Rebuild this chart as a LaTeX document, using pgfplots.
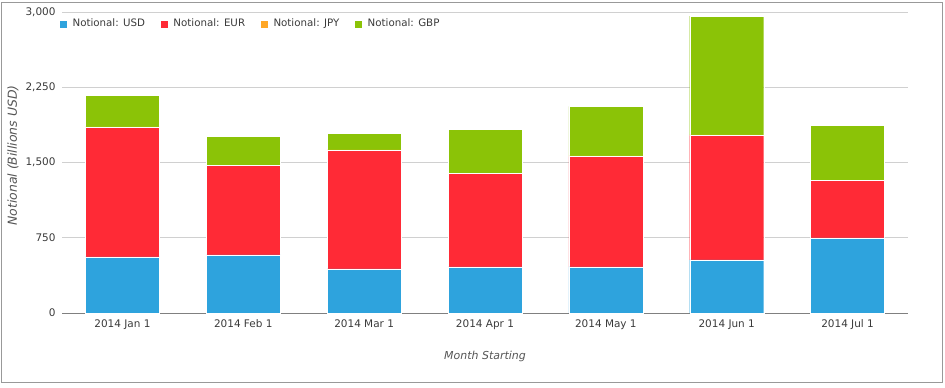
\documentclass[border=0pt]{standalone}
\usepackage{pgfplots}
\pgfplotsset{compat=1.18}
\usepackage{fontspec}
\setmainfont{DejaVu Sans}
\definecolor{cusd}{HTML}{2EA3DD}
\definecolor{ceur}{HTML}{FF2A36}
\definecolor{cjpy}{HTML}{FFA726}
\definecolor{cgbp}{HTML}{8BC307}
\definecolor{ctxt}{HTML}{3A3A3A}
\definecolor{clab}{HTML}{555555}
\definecolor{cgrid}{HTML}{D0D0D0}
\begin{document}
\begin{tikzpicture}[x=1bp,y=1bp]
\useasboundingbox (0,0) rectangle (945,387);
\draw[color=gray!80,line width=1bp] (1,5) rectangle (942,384);
\begin{axis}[
  at={(62bp,74bp)}, anchor=south west,
  scale only axis, width=846bp, height=301bp,
  ybar stacked, bar width=74bp,
  xmin=-0.5, xmax=6.5, ymin=0, ymax=3000,
  xtick=data,
  xticklabels={2014 Jan 1,2014 Feb 1,2014 Mar 1,2014 Apr 1,2014 May 1,2014 Jun 1,2014 Jul 1},
  ytick={0,750,1500,2250,3000},
  /pgf/number format/.cd, 1000 sep={,}, assume math mode=true, /pgfplots/.cd,
  ymajorgrids, grid style={cgrid, line width=0.8bp},
  axis x line*=bottom, axis y line*=left,
  y axis line style={draw=none},
  x axis line style={color=gray, line width=1bp, -},
  major tick length=0pt,
  tick label style={font=\fontsize{10.5}{12}\selectfont, text=ctxt},
  xticklabel style={yshift=-3bp, text height=7.5bp, text depth=2bp},
  yticklabel style={xshift=-3bp},
  xlabel={\itshape Month Starting},
  ylabel={\itshape Notional (Billions USD)},
  label style={text=clab},
  xlabel style={font=\fontsize{11}{12}\selectfont, at={(axis description cs:0.5,0)}, anchor=center, yshift=-43bp},
  ylabel style={font=\fontsize{12.5}{14}\selectfont, at={(axis description cs:0,0.5)}, anchor=center, yshift=49bp, xshift=7bp},
  legend columns=4,
  legend style={at={(0,1)}, anchor=north west, draw=none, fill=none,
    font=\fontsize{10.3}{12}\selectfont, text=ctxt, yshift=-3bp, xshift=-6bp,
    /tikz/every odd column/.append style={column sep=3bp},
    /tikz/every even column/.append style={column sep=13bp}},
  legend image code/.code={\fill[#1] (0bp,-4bp) rectangle (8bp,4bp);},
  every axis plot/.append style={draw=white, line width=0.4bp},
]
\addplot[fill=cusd] coordinates {(0,560) (1,580) (2,440) (3,460) (4,460) (5,530) (6,750)};
\addplot[fill=ceur] coordinates {(0,1290) (1,890) (2,1180) (3,930) (4,1100) (5,1240) (6,570)};
\addplot[fill=cjpy] coordinates {(0,5) (1,5) (2,5) (3,5) (4,5) (5,5) (6,5)};
\addplot[fill=cgbp] coordinates {(0,315) (1,285) (2,165) (3,435) (4,495) (5,1185) (6,545)};
\legend{Notional: USD,Notional: EUR,Notional: JPY,Notional: GBP}
\end{axis}
\end{tikzpicture}
\end{document}
